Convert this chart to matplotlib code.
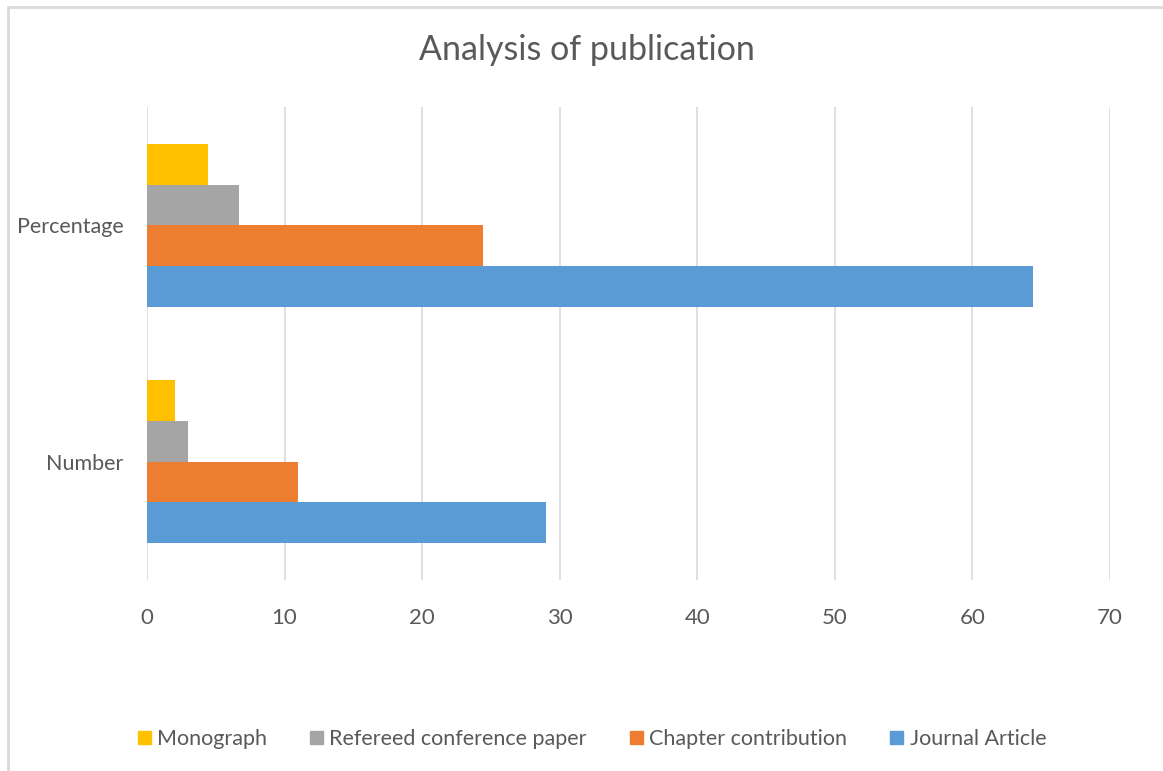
import matplotlib.pyplot as plt
from matplotlib.patches import Patch, Rectangle
import numpy as np

# Data
categories = ["Number", "Percentage"]
series_names = ["Journal Article", "Chapter contribution",
                "Refereed conference paper", "Monograph"]
journal = [29, 64.4]
chapter = [11, 24.4]
refereed = [3, 6.7]
monograph = [2, 4.4]
x_ticks = [0, 10, 20, 30, 40, 50, 60, 70]

colors = ["#5B9BD5", "#ED7D31", "#A5A5A5", "#FFC000"]
text_color = "#595959"
grid_color = "#D9D9D9"

plt.rcParams['font.family'] = ['Lato', 'DejaVu Sans']

fig = plt.figure(figsize=(11.63, 7.71), dpi=100)
ax = fig.add_axes([147 / 1163, 1 - 580 / 771, (1110 - 147) / 1163, (580 - 107) / 771])

# chart border (light gray, runs off the right and bottom of the picture)
fig.patches.append(Rectangle((8 / 1163, -0.05), 1.1, 1 - 7 / 771 + 0.05,
                             transform=fig.transFigure, fill=False,
                             edgecolor=grid_color, linewidth=2, zorder=0))

y = np.arange(len(categories))
h = 0.172
all_series = [journal, chapter, refereed, monograph]
offsets = [-1.5, -0.5, 0.5, 1.5]
for vals, off, col, name in zip(all_series, offsets, colors, series_names):
    ax.barh(y + off * h, vals, height=h, color=col, label=name, zorder=3)

ax.set_xlim(0, 70)
ax.set_ylim(-0.5, 1.5)
ax.set_xticks(x_ticks)
ax.set_yticks(y)
ax.set_yticklabels(categories)
ax.tick_params(length=0, colors=text_color)
ax.tick_params(axis='x', pad=20, labelsize=16)
ax.tick_params(axis='y', pad=17, labelsize=15.5)
for s in ax.spines.values():
    s.set_visible(False)
ax.grid(axis='x', color=grid_color, linewidth=1.2, zorder=0)

fig.text(587 / 1163, 1 - 50 / 771, "Analysis of publication", ha='center',
         va='center', fontsize=24.5, color=text_color)

# legend, in the reference order
handles = [Patch(color=c, label=n) for c, n in zip(colors[::-1], series_names[::-1])]
fig.legend(handles=handles, loc='center', bbox_to_anchor=(592 / 1163, 1 - 739 / 771),
           ncol=4, frameon=False, fontsize=15.5, labelcolor=text_color,
           handlelength=0.6, handleheight=0.6, handletextpad=0.3,
           columnspacing=2.0)

fig.savefig("out.png", dpi=100)
